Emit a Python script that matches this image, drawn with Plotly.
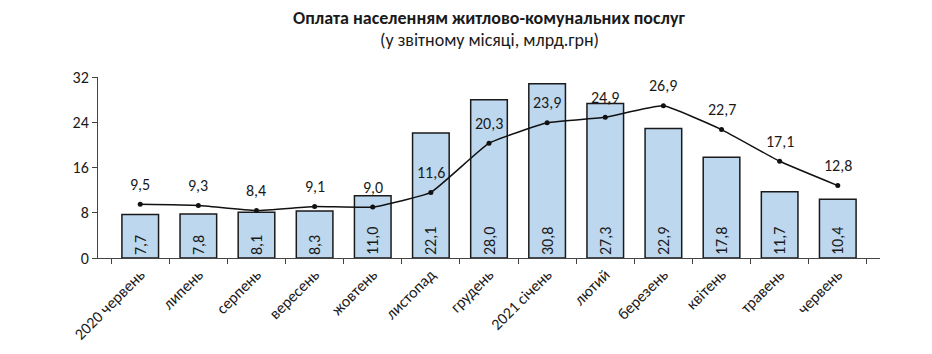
import plotly.graph_objects as go

categories = ["2020 червень", "липень", "серпень", "вересень", "жовтень", "листопад",
              "грудень", "2021 січень", "лютий", "березень", "квітень", "травень", "червень"]
bar_values = [7.7, 7.8, 8.1, 8.3, 11.0, 22.1, 28.0, 30.8, 27.3, 22.9, 17.8, 11.7, 10.4]
line_values = [9.5, 9.3, 8.4, 9.1, 9.0, 11.6, 20.3, 23.9, 24.9, 26.9, 22.7, 17.1, 12.8]
y_ticks = [0, 8, 16, 24, 32]

FONT = "Carlito, Calibri, Open Sans, sans-serif"

def fmt(v):
    return f"{v:.1f}".replace(".", ",")

fig = go.Figure()
fig.add_trace(go.Bar(
    x=categories, y=bar_values,
    marker=dict(color="#bdd7ee", line=dict(color="#1a1a1a", width=1.5)),
    text=[fmt(v) for v in bar_values],
    textposition="inside", insidetextanchor="start", textangle=-90,
    textfont=dict(size=16, color="#1a1a1a", family=FONT),
    cliponaxis=False,
))
fig.add_trace(go.Scatter(
    x=categories, y=line_values, mode="lines+markers",
    line=dict(color="#111111", width=1.5, shape="spline", smoothing=0.35),
    marker=dict(size=5, color="#111111"),
))
for c, v in zip(categories, line_values):
    fig.add_annotation(x=c, y=v, text=fmt(v), showarrow=False, yshift=20,
                       font=dict(size=16, color="#1a1a1a", family=FONT))

fig.add_annotation(x=0.5, xref="paper", y=1.326, yref="paper", yanchor="middle",
                   text="<b>Оплата населенням житлово-комунальних послуг</b>",
                   showarrow=False, font=dict(size=18, family=FONT, color="#1a1a1a"))
fig.add_annotation(x=0.5, xref="paper", y=1.204, yref="paper", yanchor="middle",
                   text="(у звітному місяці, млрд.грн)",
                   showarrow=False, font=dict(size=18, family=FONT, color="#1a1a1a"))

fig.update_layout(
    width=932, height=354,
    margin=dict(l=98, r=52, t=77, b=96),
    paper_bgcolor="white", plot_bgcolor="white",
    showlegend=False, bargap=0.37,
    font=dict(family=FONT, color="#1a1a1a"),
)
fig.update_xaxes(
    showline=True, linecolor="#444444", linewidth=1,
    ticks="outside", tickson="boundaries", ticklen=5, tickcolor="#444444",
    tickangle=-45, tickfont=dict(size=16, family=FONT, color="#1a1a1a"),
    showgrid=False,
)
fig.update_yaxes(
    range=[0, 32], tickvals=y_ticks,
    showline=True, linecolor="#444444", linewidth=1,
    ticks="outside", ticklen=5, tickcolor="#444444",
    tickfont=dict(size=16, family=FONT, color="#1a1a1a"),
    showgrid=False, zeroline=False,
)
fig.write_html("out.html")
